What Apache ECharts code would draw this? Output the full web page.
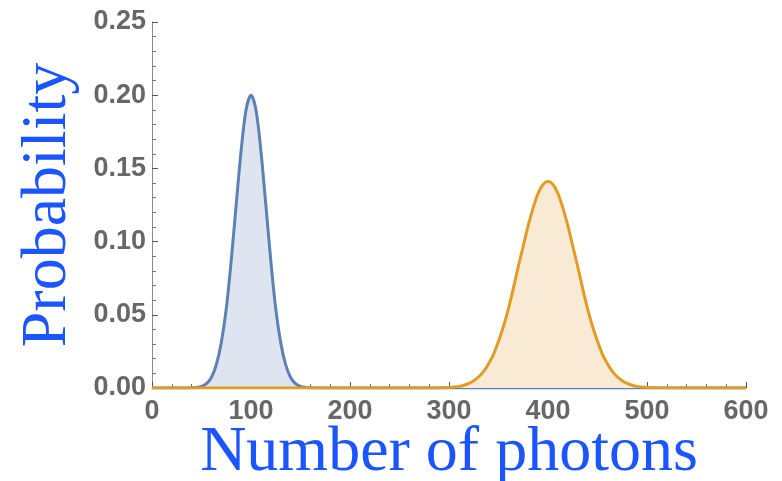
<!DOCTYPE html>
<html>
<head>
<meta charset="utf-8">
<script src="https://cdn.jsdelivr.net/npm/echarts@6/dist/echarts.min.js"></script>
<style>html,body{margin:0;padding:0;background:#fff;}#c{width:782px;height:481px;}</style>
</head>
<body>
<div id="c"></div>
<script>
// Number of photons (x) and probability values
const blueX = [0, 35, 40, 45, 50, 55, 60, 65, 70, 75, 80, 85, 90, 95, 100, 105, 110, 115, 120, 125, 130, 135, 140, 145, 150, 155, 160, 165, 600];
const blueY = [0, 0, 0.0001, 0.0004, 0.0011, 0.0030, 0.0072, 0.016, 0.031, 0.054, 0.087, 0.125, 0.162, 0.190, 0.200, 0.190, 0.162, 0.125, 0.087, 0.054, 0.031, 0.016, 0.0072, 0.0030, 0.0011, 0.0004, 0.0001, 0, 0];
const orangeX = [0, 290, 300, 305, 310, 315, 320, 325, 330, 335, 340, 345, 350, 355, 360, 365, 370, 375, 380, 385, 390, 395, 400, 405, 410, 415, 420, 425, 430, 435, 440, 445, 450, 455, 460, 465, 470, 475, 480, 485, 490, 495, 500, 510, 600];
const orangeY = [0, 0, 0.0004, 0.0007, 0.0011, 0.0019, 0.0031, 0.0050, 0.0077, 0.0114, 0.0166, 0.023, 0.032, 0.042, 0.054, 0.068, 0.083, 0.097, 0.111, 0.123, 0.133, 0.139, 0.141, 0.139, 0.133, 0.123, 0.111, 0.097, 0.083, 0.068, 0.054, 0.042, 0.032, 0.023, 0.0166, 0.0114, 0.0077, 0.0050, 0.0031, 0.0019, 0.0011, 0.0007, 0.0004, 0.0001, 0];
const xTicks = [0, 100, 200, 300, 400, 500, 600];
const yTicks = [0, 0.05, 0.10, 0.15, 0.20, 0.25];

const pairs = (xs, ys) => xs.map((x, i) => [x, ys[i]]);

const chart = echarts.init(document.getElementById('c'), null, {renderer: 'canvas'});
const tickLabel = {color: '#676767', fontFamily: 'Liberation Sans', fontWeight: 'bold', fontSize: 27};
chart.setOption({
  animation: false,
  backgroundColor: '#ffffff',
  grid: {left: 152, right: 36, top: 22, bottom: 93, containLabel: false, outerBoundsMode: 'none'},
  xAxis: {
    type: 'value', min: xTicks[0], max: xTicks[xTicks.length - 1], interval: 100,
    name: 'Number of photons', nameLocation: 'middle', nameGap: 33, nameMoveOverlap: false,
    nameTextStyle: {color: '#1a55ff', fontFamily: 'Liberation Serif', fontSize: 64},
    axisLine: {show: true, lineStyle: {color: '#8c8c8c', width: 1}},
    axisTick: {show: true, inside: true, length: 6, lineStyle: {color: '#555', width: 1}},
    minorTick: {show: true, splitNumber: 5, length: 4, lineStyle: {color: '#777', width: 1}},
    axisLabel: Object.assign({margin: 10, formatter: v => String(v)}, tickLabel),
    splitLine: {show: false}
  },
  yAxis: {
    type: 'value', min: yTicks[0], max: yTicks[yTicks.length - 1], interval: 0.05,
    name: 'Probability', nameLocation: 'middle', nameRotate: 90, nameGap: 72, nameMoveOverlap: false,
    nameTextStyle: {color: '#1a55ff', fontFamily: 'Liberation Serif', fontSize: 64},
    axisLine: {show: true, lineStyle: {color: '#8c8c8c', width: 1}},
    axisTick: {show: true, inside: true, length: 6, lineStyle: {color: '#555', width: 1}},
    minorTick: {show: true, splitNumber: 5, length: 4, lineStyle: {color: '#777', width: 1}},
    axisLabel: Object.assign({margin: 6, formatter: v => v.toFixed(2)}, tickLabel),
    splitLine: {show: false}
  },
  series: [
    {
      type: 'line', data: pairs(blueX, blueY), smooth: 0.3, showSymbol: false, symbol: 'none',
      lineStyle: {color: '#5e81b5', width: 3}, itemStyle: {color: '#5e81b5'},
      areaStyle: {color: '#dfe5f0', opacity: 1}, z: 2
    },
    {
      type: 'line', data: pairs(orangeX, orangeY), smooth: 0.3, showSymbol: false, symbol: 'none',
      lineStyle: {color: '#e19c24', width: 3}, itemStyle: {color: '#e19c24'},
      areaStyle: {color: '#f8ead5', opacity: 1}, z: 3
    }
  ]
});
</script>
</body>
</html>
